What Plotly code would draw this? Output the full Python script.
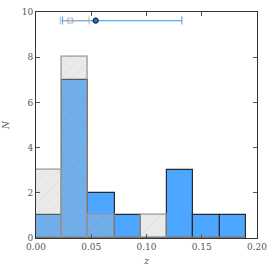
import plotly.graph_objects as go

# bin edges (z) and counts
bin_edges = [0.0, 0.02375, 0.0475, 0.07125, 0.095, 0.11875, 0.1425, 0.16625, 0.19]
blue_counts = [1, 7, 2, 1, 0, 3, 1, 1]
gray_counts = [3, 8, 1, 0, 1, 0, 0, 0]

# summary points with asymmetric errors
blue_z, blue_lo, blue_hi = 0.054, 0.024, 0.132
gray_z, gray_lo, gray_hi = 0.031, 0.022, 0.048
err_y = 9.62

x_ticks = [0.00, 0.05, 0.10, 0.15, 0.20]
x_ticktext = ["0.00", "0.05", "0.10", "0.15", "0.20"]
y_ticks = [0, 2, 4, 6, 8, 10]

centers = [(a + b) / 2 for a, b in zip(bin_edges[:-1], bin_edges[1:])]
widths = [b - a for a, b in zip(bin_edges[:-1], bin_edges[1:])]

fig = go.Figure()
fig.add_trace(go.Bar(
    x=centers, y=blue_counts, width=widths,
    marker=dict(color="#4da6ff", line=dict(color="#2a2a2a", width=1.2)),
    showlegend=False,
))
fig.add_trace(go.Bar(
    x=centers, y=gray_counts, width=widths,
    marker=dict(
        color="rgba(190,190,190,0.32)",
        line=dict(color="rgba(150,150,150,0.7)", width=1.8),
        pattern=dict(shape="/", fgcolor="rgba(110,110,110,0.3)", size=8,
                     solidity=0.08, fillmode="overlay"),
    ),
    showlegend=False,
))
fig.add_trace(go.Scatter(
    x=[blue_z], y=[err_y], mode="markers",
    marker=dict(color="#2f6fc0", size=5, line=dict(color="#0b2a55", width=1.2)),
    error_x=dict(type="data", symmetric=False, array=[blue_hi - blue_z],
                 arrayminus=[blue_z - blue_lo], color="#5aaaf5", thickness=1.2, width=4),
    showlegend=False,
))
fig.add_trace(go.Scatter(
    x=[gray_z], y=[err_y], mode="markers",
    marker=dict(symbol="square-open", color="rgba(150,150,150,0.7)", size=5,
                line=dict(width=1)),
    error_x=dict(type="data", symmetric=False, array=[gray_hi - gray_z],
                 arrayminus=[gray_z - gray_lo], color="rgba(170,170,170,0.7)",
                 thickness=1.2, width=4),
    showlegend=False,
))

axis_common = dict(
    showline=True, linecolor="#333", linewidth=1, mirror="allticks",
    ticks="inside", ticklen=4, tickcolor="#555", tickwidth=1,
    showgrid=False, zeroline=False, automargin=False,
    tickfont=dict(family="DejaVu Serif", size=9, color="#555"),
)
fig.update_xaxes(range=[0, 0.2], tickvals=x_ticks, ticktext=x_ticktext,
                 title=dict(text="<i>z</i>", font=dict(family="DejaVu Serif", size=9, color="#555"),
                            standoff=6),
                 **axis_common)
fig.update_yaxes(range=[0, 10], tickvals=y_ticks,
                 title=dict(text="<i>N</i>", font=dict(family="DejaVu Serif", size=9, color="#555"),
                            standoff=10),
                 **axis_common)

fig.update_layout(
    width=274, height=274, barmode="overlay", bargap=0,
    margin=dict(l=36, r=17, t=12, b=36),
    plot_bgcolor="white", paper_bgcolor="white",
)
fig.write_html("out.html", config={"displayModeBar": False},
               post_script="document.body.style.margin='0';")
